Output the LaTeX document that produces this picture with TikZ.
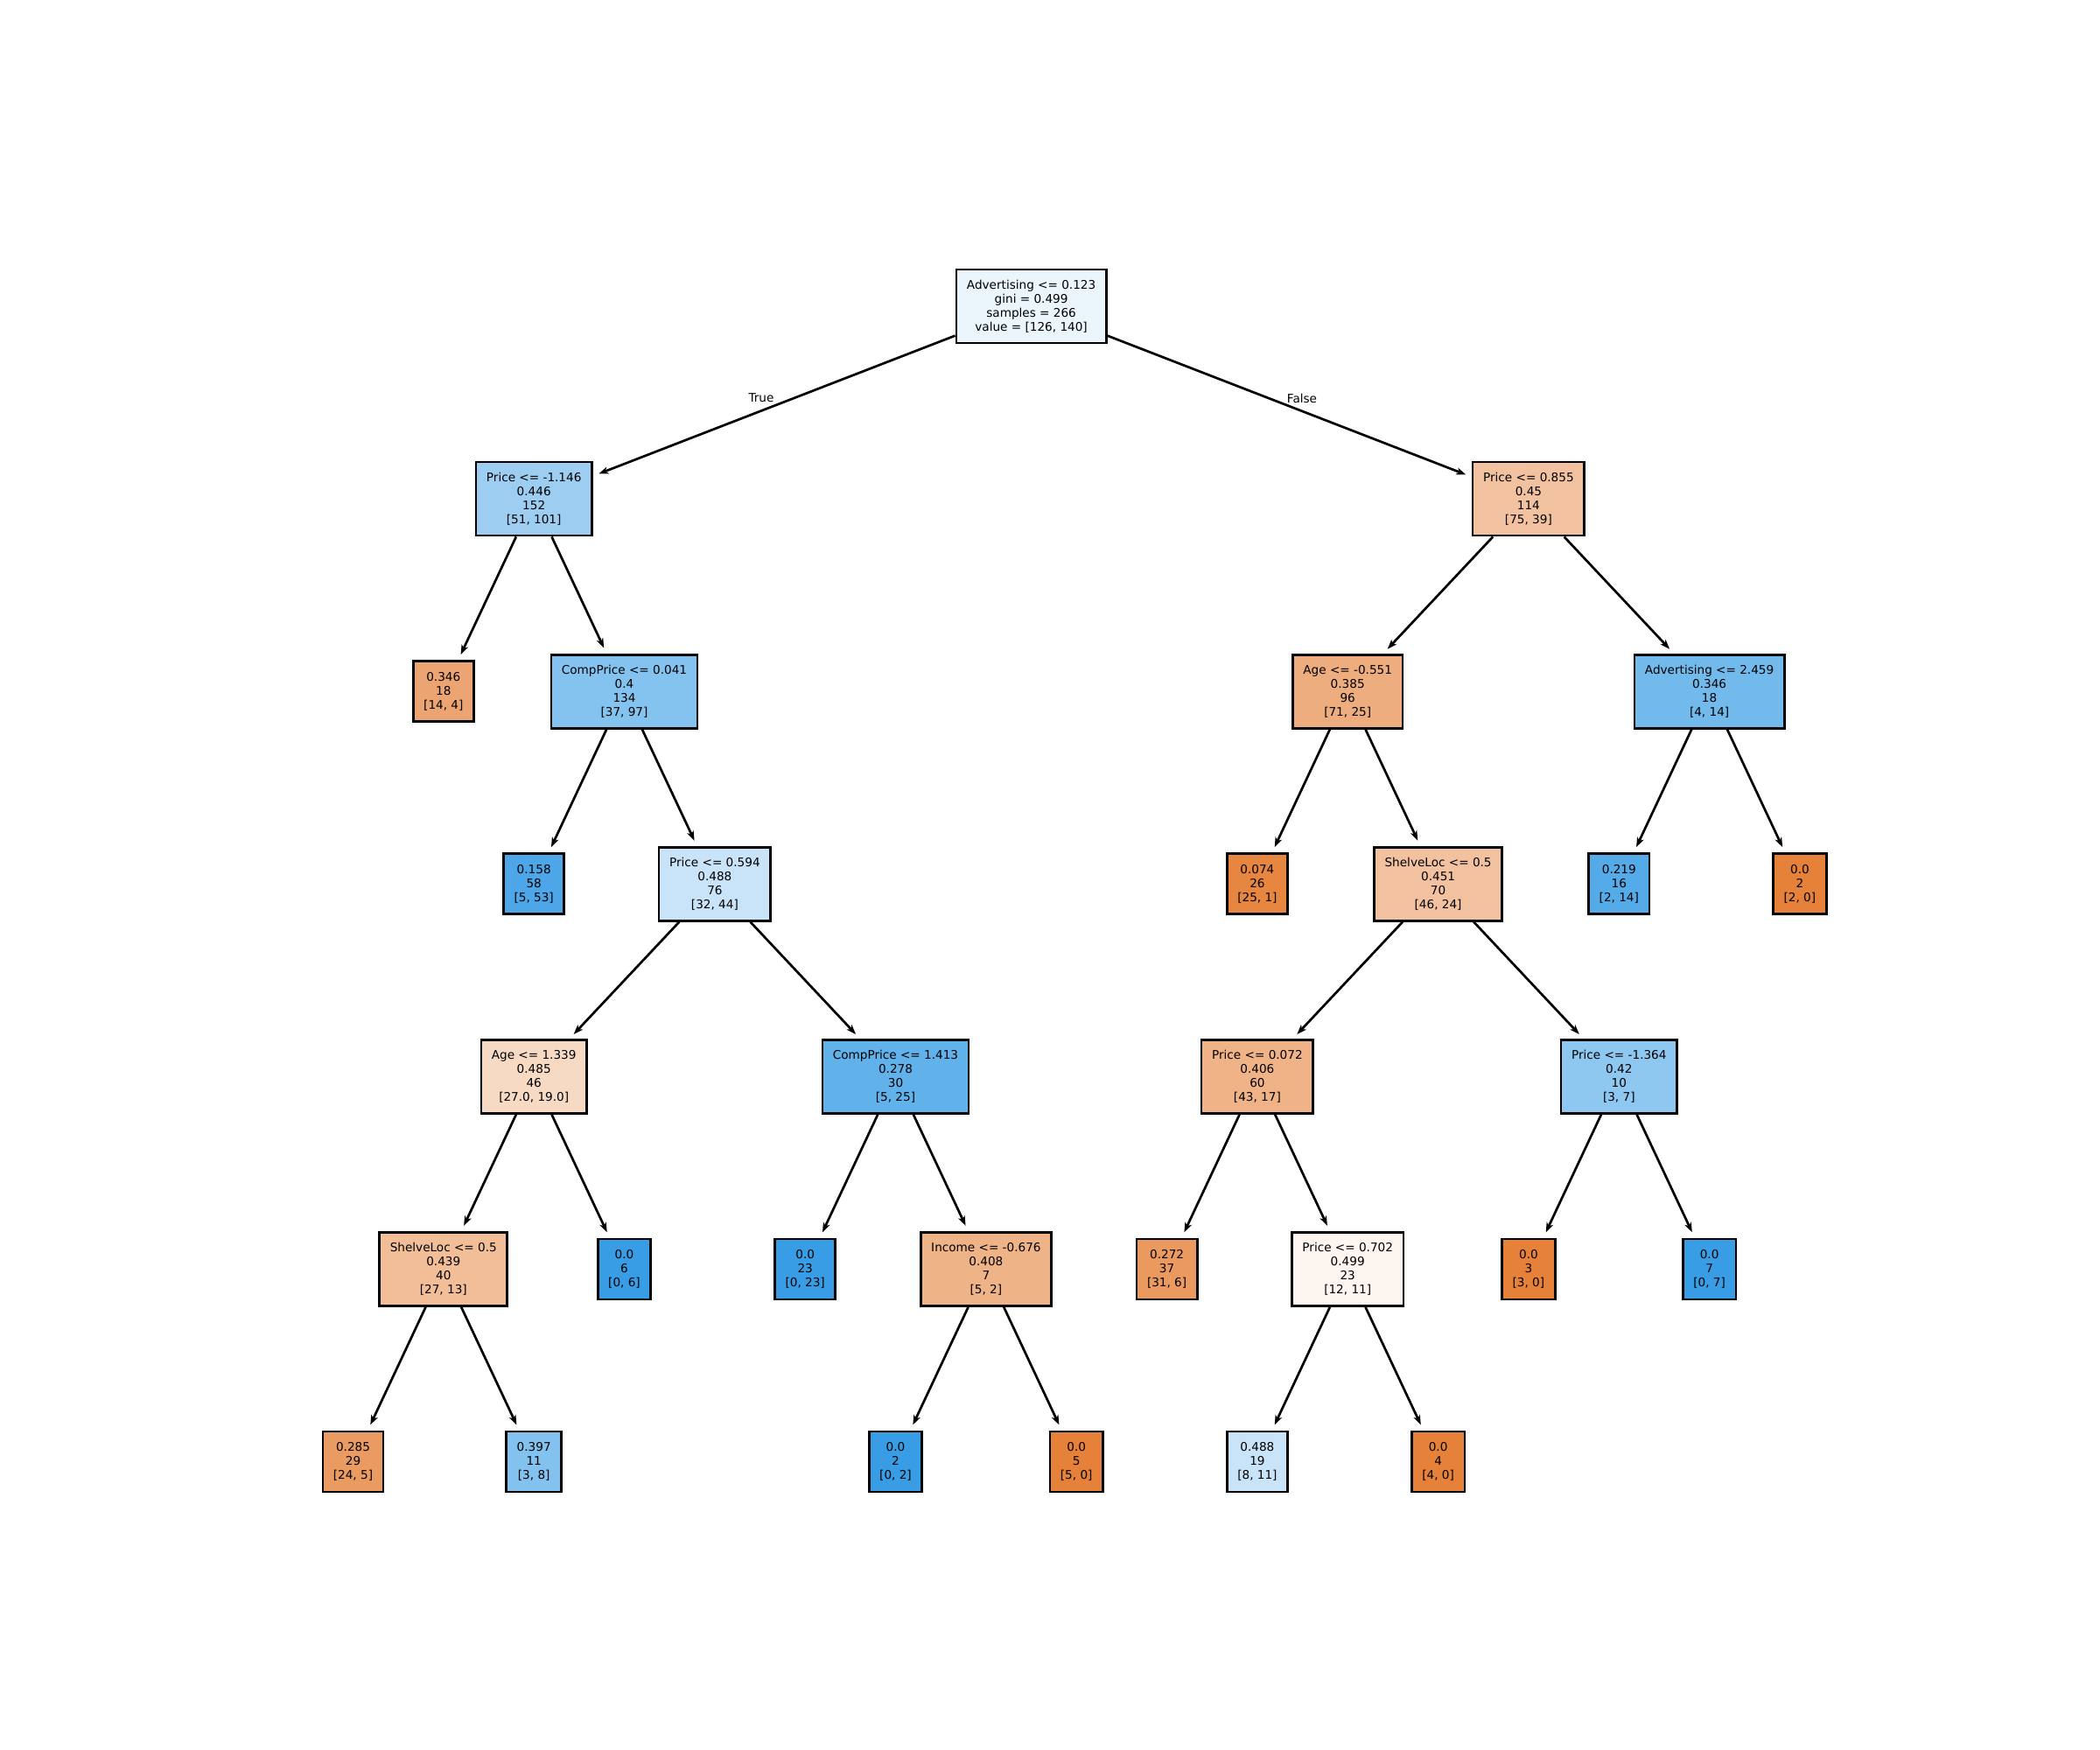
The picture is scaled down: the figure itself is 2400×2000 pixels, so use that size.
\documentclass[tikz,border=0pt]{standalone}
\usepackage{fontspec}
\setmainfont{DejaVu Sans}
\usetikzlibrary{arrows.meta}

\definecolor{cRoot}{RGB}{235,245,252}
\definecolor{cPriceA}{RGB}{157,206,242}
\definecolor{cPriceB}{RGB}{242,194,160}
\definecolor{cLeafA}{RGB}{236,165,114}
\definecolor{cCompA}{RGB}{132,194,239}
\definecolor{cLeafB}{RGB}{76,166,231}
\definecolor{cPriceC}{RGB}{201,228,248}
\definecolor{cAgeA}{RGB}{247,218,196}
\definecolor{cCompB}{RGB}{97,177,234}
\definecolor{cShelfA}{RGB}{241,190,152}
\definecolor{cIncome}{RGB}{239,179,136}
\definecolor{cLeafC}{RGB}{234,155,98}
\definecolor{cLeafD}{RGB}{131,194,239}
\definecolor{cAgeB}{RGB}{238,173,127}
\definecolor{cAdvB}{RGB}{114,185,236}
\definecolor{cLeafE}{RGB}{230,134,65}
\definecolor{cShelfB}{RGB}{242,194,160}
\definecolor{cLeafF}{RGB}{85,171,232}
\definecolor{cPriceD}{RGB}{239,179,135}
\definecolor{cPriceE}{RGB}{142,199,240}
\definecolor{cLeafG}{RGB}{234,153,95}
\definecolor{cPriceF}{RGB}{253,245,239}
\definecolor{cLeafH}{RGB}{201,228,248}
\definecolor{pureOrange}{RGB}{229,129,57}
\definecolor{pureBlue}{RGB}{57,157,229}

\tikzset{
    treenode/.style={draw=black, line width=1.35pt, align=center,
        font=\fontsize{6.8pt}{8pt}\selectfont, inner xsep=6pt, inner ysep=2pt},
    split/.style={treenode, minimum height=42pt},
    leaf/.style={treenode, minimum height=34.5pt},
    branch/.style={-{Stealth[length=5.5pt,width=4pt,inset=1.5pt]}, line width=1.35pt, shorten >=3.5pt},
    edgelabel/.style={font=\fontsize{6.8pt}{8pt}\selectfont, inner sep=0pt}
}

\begin{document}
\begin{tikzpicture}[x=0.5pt, y=-0.5pt]
    \useasboundingbox (0,0) rectangle (2400,2000);

    % root and first split
    \node[split, fill=cRoot] (adv1) at (1178.6,350) {Advertising <= 0.123\\gini = 0.499\\samples = 266\\value = {[}126, 140{]}};
    \node[split, fill=cPriceA] (price1) at (610.2,570.1) {Price <= -1.146\\0.446\\152\\{[}51, 101{]}};
    \node[split, fill=cPriceB] (price2) at (1746.9,570.1) {Price <= 0.855\\0.45\\114\\{[}75, 39{]}};

    % left subtree
    \node[leaf, fill=cLeafA] (leaf1) at (506.8,790.2) {0.346\\18\\{[}14, 4{]}};
    \node[split, fill=cCompA] (comp1) at (713.5,790.2) {CompPrice <= 0.041\\0.4\\134\\{[}37, 97{]}};
    \node[leaf, fill=cLeafB] (leaf2) at (610.2,1010.3) {0.158\\58\\{[}5, 53{]}};
    \node[split, fill=cPriceC] (price3) at (816.9,1010.3) {Price <= 0.594\\0.488\\76\\{[}32, 44{]}};
    \node[split, fill=cAgeA] (age1) at (610.2,1230.4) {Age <= 1.339\\0.485\\46\\{[}27.0, 19.0{]}};
    \node[split, fill=cCompB] (comp2) at (1023.5,1230.4) {CompPrice <= 1.413\\0.278\\30\\{[}5, 25{]}};
    \node[split, fill=cShelfA] (shelf1) at (506.8,1450.5) {ShelveLoc <= 0.5\\0.439\\40\\{[}27, 13{]}};
    \node[leaf, fill=pureBlue] (leaf3) at (713.5,1450.5) {0.0\\6\\{[}0, 6{]}};
    \node[leaf, fill=pureBlue] (leaf4) at (920.2,1450.5) {0.0\\23\\{[}0, 23{]}};
    \node[split, fill=cIncome] (income1) at (1126.9,1450.5) {Income <= -0.676\\0.408\\7\\{[}5, 2{]}};
    \node[leaf, fill=cLeafC] (leaf5) at (403.5,1670.6) {0.285\\29\\{[}24, 5{]}};
    \node[leaf, fill=cLeafD] (leaf6) at (610.2,1670.6) {0.397\\11\\{[}3, 8{]}};
    \node[leaf, fill=pureBlue] (leaf7) at (1023.5,1670.6) {0.0\\2\\{[}0, 2{]}};
    \node[leaf, fill=pureOrange] (leaf8) at (1230.2,1670.6) {0.0\\5\\{[}5, 0{]}};

    % right subtree
    \node[split, fill=cAgeB] (age2) at (1540.2,790.2) {Age <= -0.551\\0.385\\96\\{[}71, 25{]}};
    \node[split, fill=cAdvB] (adv2) at (1953.6,790.2) {Advertising <= 2.459\\0.346\\18\\{[}4, 14{]}};
    \node[leaf, fill=cLeafE] (leaf9) at (1436.9,1010.3) {0.074\\26\\{[}25, 1{]}};
    \node[split, fill=cShelfB] (shelf2) at (1643.6,1010.3) {ShelveLoc <= 0.5\\0.451\\70\\{[}46, 24{]}};
    \node[leaf, fill=cLeafF] (leaf10) at (1850.3,1010.3) {0.219\\16\\{[}2, 14{]}};
    \node[leaf, fill=pureOrange] (leaf11) at (2056.9,1010.3) {0.0\\2\\{[}2, 0{]}};
    \node[split, fill=cPriceD] (price4) at (1436.9,1230.4) {Price <= 0.072\\0.406\\60\\{[}43, 17{]}};
    \node[split, fill=cPriceE] (price5) at (1850.3,1230.4) {Price <= -1.364\\0.42\\10\\{[}3, 7{]}};
    \node[leaf, fill=cLeafG] (leaf12) at (1333.6,1450.5) {0.272\\37\\{[}31, 6{]}};
    \node[split, fill=cPriceF] (price6) at (1540.2,1450.5) {Price <= 0.702\\0.499\\23\\{[}12, 11{]}};
    \node[leaf, fill=pureOrange] (leaf13) at (1746.9,1450.5) {0.0\\3\\{[}3, 0{]}};
    \node[leaf, fill=pureBlue] (leaf14) at (1953.6,1450.5) {0.0\\7\\{[}0, 7{]}};
    \node[leaf, fill=cLeafH] (leaf15) at (1436.9,1670.6) {0.488\\19\\{[}8, 11{]}};
    \node[leaf, fill=pureOrange] (leaf16) at (1643.6,1670.6) {0.0\\4\\{[}4, 0{]}};

    % branch labels
    \node[edgelabel] (truelbl) at (870,455) {True};
    \node[edgelabel] (falselbl) at (1488,455) {False};

    % branches
    \draw[branch] (adv1) -- (price1);
    \draw[branch] (adv1) -- (price2);
    \draw[branch] (price1) -- (leaf1);
    \draw[branch] (price1) -- (comp1);
    \draw[branch] (comp1) -- (leaf2);
    \draw[branch] (comp1) -- (price3);
    \draw[branch] (price3) -- (age1);
    \draw[branch] (price3) -- (comp2);
    \draw[branch] (age1) -- (shelf1);
    \draw[branch] (age1) -- (leaf3);
    \draw[branch] (shelf1) -- (leaf5);
    \draw[branch] (shelf1) -- (leaf6);
    \draw[branch] (comp2) -- (leaf4);
    \draw[branch] (comp2) -- (income1);
    \draw[branch] (income1) -- (leaf7);
    \draw[branch] (income1) -- (leaf8);
    \draw[branch] (price2) -- (age2);
    \draw[branch] (price2) -- (adv2);
    \draw[branch] (age2) -- (leaf9);
    \draw[branch] (age2) -- (shelf2);
    \draw[branch] (shelf2) -- (price4);
    \draw[branch] (shelf2) -- (price5);
    \draw[branch] (price4) -- (leaf12);
    \draw[branch] (price4) -- (price6);
    \draw[branch] (price6) -- (leaf15);
    \draw[branch] (price6) -- (leaf16);
    \draw[branch] (price5) -- (leaf13);
    \draw[branch] (price5) -- (leaf14);
    \draw[branch] (adv2) -- (leaf10);
    \draw[branch] (adv2) -- (leaf11);
\end{tikzpicture}
\end{document}
